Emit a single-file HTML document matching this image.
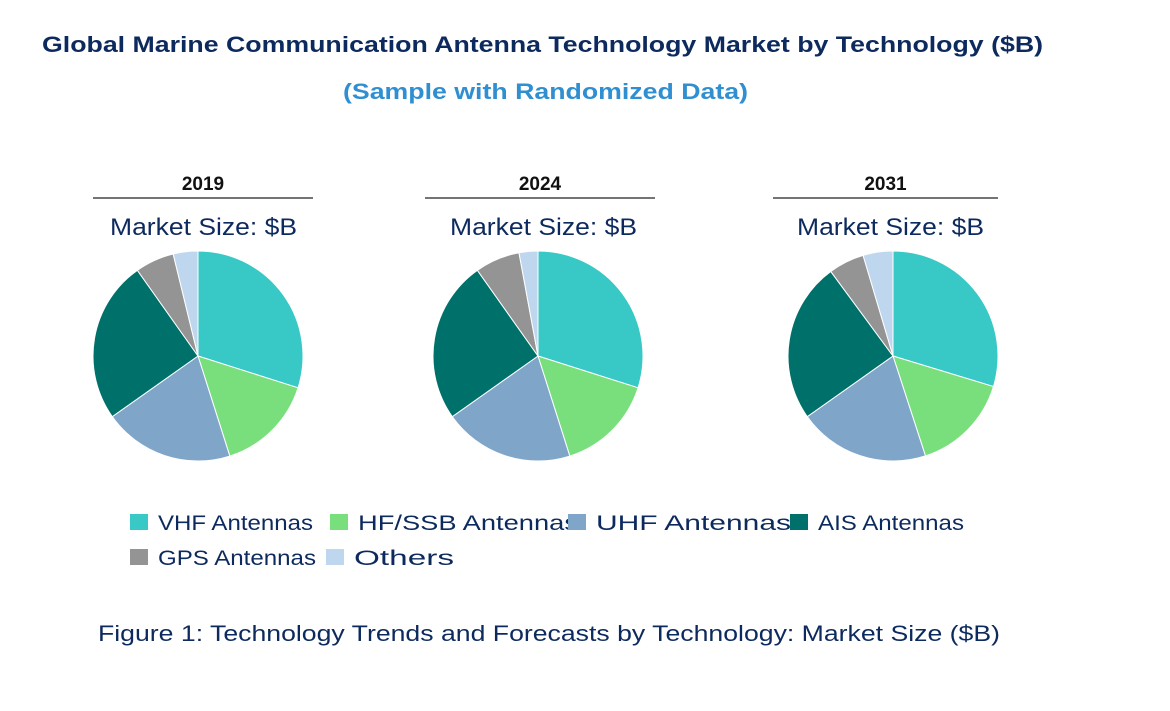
<!DOCTYPE html>
<html><head><meta charset="utf-8"><style>
body{margin:0;background:#fff;font-family:"Liberation Sans",Arial,sans-serif;}
#wrap{position:relative;width:1170px;height:711px;overflow:hidden;}
</style></head><body>
<div id="wrap">
<svg id="svg" width="1170" height="711">
<text x="42" y="52" font-size="22" font-weight="bold" fill="#0d2a5e" textLength="1001" lengthAdjust="spacingAndGlyphs">Global Marine Communication Antenna Technology Market by Technology ($B)</text>
<text x="343" y="99" font-size="22" font-weight="bold" fill="#2f8fd0" textLength="405" lengthAdjust="spacingAndGlyphs">(Sample with Randomized Data)</text>
<text x="98" y="641" font-size="22" fill="#0d2a5e" textLength="902" lengthAdjust="spacingAndGlyphs">Figure 1: Technology Trends and Forecasts by Technology: Market Size ($B)</text>
</svg>
</div>
<script>
const years = ["2019","2024","2031"];
const categories = ["VHF Antennas","HF/SSB Antennas","UHF Antennas","AIS Antennas","GPS Antennas","Others"];
const values2019 = [29.9,15.2,20.1,25.0,6.0,3.8];
const values2024 = [29.9,15.2,20.1,25.0,6.9,2.9];
const values2031 = [29.7,15.3,20.2,24.7,5.5,4.6];
const colors = ["#38c8c5","#79df7c","#7fa6c9","#00716a","#949494","#bfd7ee"];
const series=[values2019,values2024,values2031];
const centers=[[198,356],[538,356],[893,356]];
const lineX=[[93,313],[425,655],[773,998]];
const msX=[110,450,797];
const R=105;
const NS="http://www.w3.org/2000/svg";
const svg=document.getElementById('svg');
function mk(t,a,p){const e=document.createElementNS(NS,t);for(const k in a)e.setAttribute(k,a[k]);(p||svg).appendChild(e);return e;}
years.forEach((y,i)=>{
  const [cx,cy]=centers[i];
  const g=mk('g',{});
  
  
  const t=mk('text',{x:(lineX[i][0]+lineX[i][1])/2,y:190,'font-size':19,'font-weight':'bold','text-anchor':'middle',fill:'#111'},g);
  t.textContent=y;
  
  
  const l=mk('line',{x1:lineX[i][0],x2:lineX[i][1],y1:198,y2:198,stroke:'#222','stroke-width':1.3},g);
  
  
  const m=mk('text',{x:msX[i],y:235,'font-size':24,fill:'#0d2a5e',textLength:187,lengthAdjust:'spacingAndGlyphs'},g);
  m.textContent='Market Size: $B';
  
  
  const vals=series[i];const tot=vals.reduce((a,b)=>a+b,0);
  let a0=0;
  vals.forEach((v,j)=>{
    const a1=a0+v/tot*2*Math.PI;
    const x0=cx+R*Math.sin(a0),y0=cy-R*Math.cos(a0),x1=cx+R*Math.sin(a1),y1=cy-R*Math.cos(a1);
    const large=(a1-a0)>Math.PI?1:0;
    const p=mk('path',{d:`M${cx},${cy}L${x0},${y0}A${R},${R} 0 ${large} 1 ${x1},${y1}Z`,fill:colors[j],stroke:'#fff','stroke-width':1},g);
    
    
    a0=a1;
  });
});
const legPos=[[130,522],[330,522],[568,522],[790,522],[130,557],[326,557]];
const legW=[155,220,195,146,158,100];
categories.forEach((c,j)=>{
  const [x,y]=legPos[j];
  const g=mk('g',{});
  
  
  mk('rect',{x:x,y:y-8,width:18,height:16,fill:colors[j]},g);
  const t=mk('text',{x:x+28,y:y+8,'font-size':21,fill:'#0d2a5e',textLength:legW[j],lengthAdjust:'spacingAndGlyphs'},g);
  t.textContent=c;
});
</script>
</body></html>
